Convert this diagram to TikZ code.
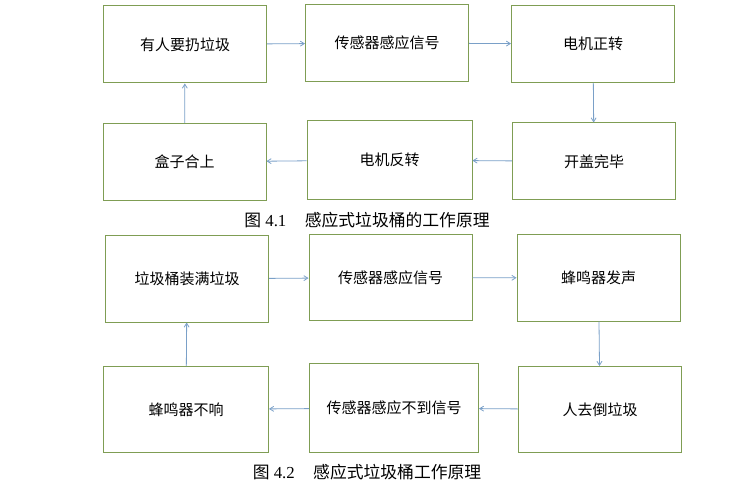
\documentclass[tikz,border=0pt]{standalone}
\usepackage{fontspec}
\setmainfont{Liberation Serif}
\newfontfamily\cjk{Noto Sans CJK SC}
\usepackage{xcolor}
\usepackage{tikz}
\usetikzlibrary{arrows.meta,positioning}
\definecolor{boxgreen}{RGB}{127,157,84}
\definecolor{flowblue}{RGB}{122,160,200}
\tikzset{procbox/.style={draw=boxgreen, line width=1pt, minimum width=163pt, minimum height=77pt,
                         font=\cjk\fontsize{15}{18}\selectfont, inner sep=0pt},
         flow/.style={draw=flowblue, line width=0.8pt, -{Straight Barb[length=4pt,width=5pt]}},
         capt/.style={font=\fontsize{16.8}{20}\selectfont}
        }

\begin{document}
\begin{tikzpicture}[x=1pt, y=-1pt]
\useasboundingbox (0,0) rectangle (747,489);
% figure 4.1
\node[procbox] (throw) at (185,44.5) {有人要扔垃圾};
\node[procbox] (sense) at (387,43) {传感器感应信号};
\node[procbox] (fwd) at (593,44) {电机正转};
\node[procbox] (opened) at (594,161.5) {开盖完毕};
\node[procbox, minimum width=165pt, minimum height=79pt] (rev) at (389.5,160) {电机反转};
\node[procbox] (closed) at (184.5,162) {盒子合上};
\node[capt] (capA) at (367,220) {{\cjk 图}~4.1\hspace{1.1em}{\cjk 感应式垃圾桶的工作原理}};
\draw[flow] (throw) -- (sense);
\draw[flow] (sense) -- (fwd);
\draw[flow] (fwd) -- (opened);
\draw[flow] (opened) -- (rev);
\draw[flow] (rev) -- (closed);
\draw[flow] (closed) -- (throw);
% figure 4.2
\node[procbox, minimum height=86pt] (full) at (187,279) {垃圾桶装满垃圾};
\node[procbox, minimum height=86pt] (sense2) at (390.5,277.5) {传感器感应信号};
\node[procbox, minimum height=86pt] (buzz) at (598.5,278) {蜂鸣器发声};
\node[procbox, minimum height=86pt] (empty) at (600,409.5) {人去倒垃圾};
\node[procbox, minimum width=169pt, minimum height=89pt] (nosig) at (394,408) {传感器感应不到信号};
\node[procbox, minimum width=165pt, minimum height=86pt] (quiet) at (186,409.5) {蜂鸣器不响};
\node[capt] (capB) at (367,472.5) {{\cjk 图}~4.2\hspace{1.1em}{\cjk 感应式垃圾桶工作原理}};
\draw[flow] (full) -- (sense2);
\draw[flow] (sense2) -- (buzz);
\draw[flow] (buzz) -- (empty);
\draw[flow] (empty) -- (nosig);
\draw[flow] (nosig) -- (quiet);
\draw[flow] (quiet) -- (full);
\end{tikzpicture}
\end{document}
